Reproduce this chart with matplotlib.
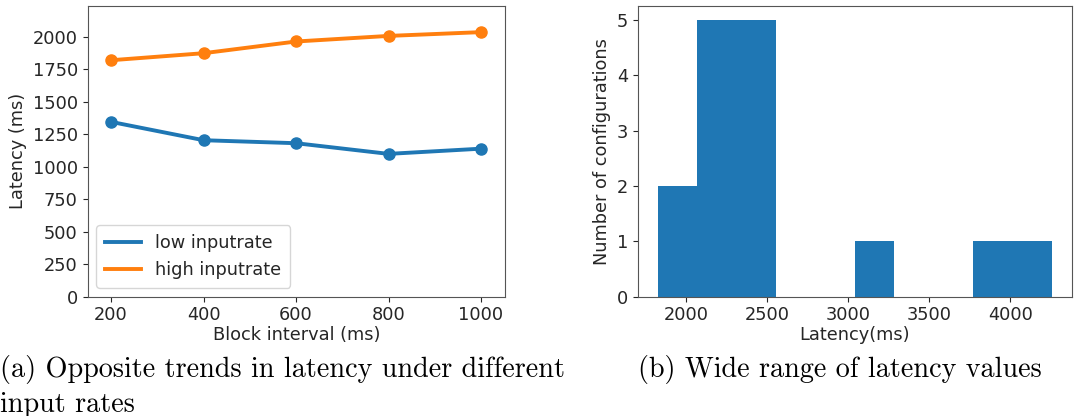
import matplotlib.pyplot as plt

block_interval = [200, 400, 600, 800, 1000]
low_inputrate = [1344, 1203, 1180, 1098, 1138]
high_inputrate = [1818, 1872, 1962, 2005, 2034]

# histogram of latencies (bin edges + counts)
bin_edges = [1825, 2068, 2311, 2554, 2798, 3041, 3284, 3527, 3771, 4014, 4257]
bin_counts = [2, 5, 5, 0, 0, 1, 0, 0, 1, 1]

plt.rcParams['font.size'] = 12.8
plt.rcParams['text.color'] = '#262626'
plt.rcParams['axes.labelcolor'] = '#262626'
plt.rcParams['xtick.color'] = '#262626'
plt.rcParams['ytick.color'] = '#262626'
plt.rcParams['axes.edgecolor'] = '#555555'

fig = plt.figure(figsize=(10.78, 4.16), dpi=100)
ax1 = fig.add_axes([0.0812, 0.2868, 0.3873, 0.6988])
ax2 = fig.add_axes([0.5916, 0.2868, 0.4028, 0.6988])

c_low, c_high = '#1f77b4', '#ff7f0e'
ax1.plot(block_interval, low_inputrate, color=c_low, linewidth=2.8, label='low inputrate')
ax1.plot(block_interval, high_inputrate, color=c_high, linewidth=2.8, label='high inputrate')
ax1.plot(block_interval, low_inputrate, 'o', color=c_low, markersize=8)
ax1.plot(block_interval, high_inputrate, 'o', color=c_high, markersize=8)
ax1.set_xlim(149, 1052)
ax1.set_ylim(0, 2235)
ax1.set_xticks([200, 400, 600, 800, 1000])
ax1.set_yticks(range(0, 2001, 250))
ax1.set_xlabel('Block interval (ms)', labelpad=1)
ax1.set_ylabel('Latency (ms)')
ax1.legend(loc='lower left', handlelength=2.0, borderpad=0.5)

centers = [(bin_edges[i] + bin_edges[i + 1]) / 2 for i in range(len(bin_counts))]
ax2.hist(centers, bins=bin_edges, weights=bin_counts, color=c_low, linewidth=0)
ax2.set_xlim(1703, 4379)
ax2.set_xticks([2000, 2500, 3000, 3500, 4000])
ax2.set_xlabel('Latency(ms)', labelpad=1)
ax2.set_ylabel('Number of configurations')

cap = dict(family='cmr10', fontsize=20.3, ha='left', va='baseline', color='black')
fig.text(0.0, 1 - 377 / 416, '(a) Opposite trends in latency under different', **cap)
fig.text(0.0, 1 - 412 / 416, 'input rates', **cap)
fig.text(0.592, 1 - 377 / 416, '(b) Wide range of latency values', **cap)

fig.savefig('out.png', dpi=100)
